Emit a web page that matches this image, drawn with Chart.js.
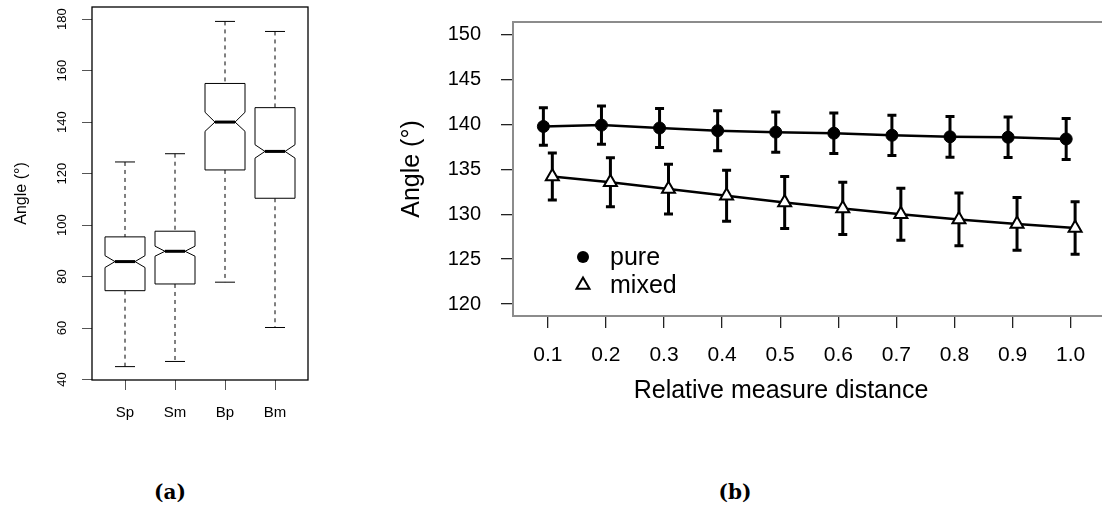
<!DOCTYPE html>
<html>
<head>
<meta charset="utf-8">
<script src="https://cdn.jsdelivr.net/npm/chart.js@4.4.1/dist/chart.umd.min.js"></script>
<style>
  html, body { margin: 0; padding: 0; background: #fff; }
  body { width: 1102px; height: 506px; position: relative; overflow: hidden; }
  canvas { position: absolute; top: 0; }
  #boxes { left: 0; }
  #angles { left: 390px; }
  .cap { position: absolute; font: bold 20px "DejaVu Serif", serif; line-height: 1; transform: translate(-50%, -50%); }
</style>
</head>
<body>
<canvas id="boxes" width="330" height="440"></canvas>
<canvas id="angles" width="725" height="430"></canvas>
<div class="cap" style="left:170px; top:492px">(a)</div>
<div class="cap" style="left:735px; top:492px">(b)</div>
<script>
// (a) notched boxplots
const groups = ["Sp", "Sm", "Bp", "Bm"];
const whiskerLow = [45.0, 47.0, 77.8, 60.2];
const q1 = [74.5, 77.1, 121.4, 110.4];
const notchLow = [83.5, 87.9, 136.4, 126.0];
const median = [85.8, 89.8, 140.0, 128.6];
const notchHigh = [88.1, 91.8, 143.8, 131.2];
const q3 = [95.4, 97.6, 155.0, 145.6];
const whiskerHigh = [124.5, 127.7, 179.1, 175.2];
const boxTicks = [40, 60, 80, 100, 120, 140, 160, 180];

// (b) mean angle +/- error by distance
const distances = [0.1, 0.2, 0.3, 0.4, 0.5, 0.6, 0.7, 0.8, 0.9, 1.0];
const pureMean = [139.77, 139.92, 139.6, 139.3, 139.14, 139.02, 138.79, 138.62, 138.57, 138.38];
const pureErr = [2.08, 2.13, 2.16, 2.23, 2.24, 2.26, 2.24, 2.27, 2.26, 2.28];
const mixedMean = [134.2, 133.55, 132.8, 132.05, 131.3, 130.65, 130.0, 129.42, 128.92, 128.47];
const mixedErr = [2.63, 2.73, 2.77, 2.84, 2.89, 2.92, 2.9, 2.93, 2.93, 2.93];
const angleTicks = [120, 125, 130, 135, 140, 145, 150];

Chart.defaults.font.family = "'Liberation Sans', Arial, sans-serif";
Chart.defaults.color = "#000";

const dodge = 0.0077;

// keep the plot frame where the layout padding puts it
const noEdgePadding = s => { s.paddingTop = 0; s.paddingBottom = 0; s.paddingLeft = 0; s.paddingRight = 0; };

const boxPlugin = {
  id: "notchedBoxes",
  afterDatasetsDraw(chart) {
    const { ctx, chartArea: a, scales: { x, y } } = chart;
    const half = 0.4, inner = 0.2, staple = 0.2;
    ctx.save();
    ctx.strokeStyle = "#000";
    groups.forEach((g, i) => {
      const pos = i + 1;
      const xc = x.getPixelForValue(pos);
      const xl = x.getPixelForValue(pos - half), xr = x.getPixelForValue(pos + half);
      const il = x.getPixelForValue(pos - inner), ir = x.getPixelForValue(pos + inner);
      const sl = x.getPixelForValue(pos - staple), sr = x.getPixelForValue(pos + staple);
      const py = v => y.getPixelForValue(v);

      // whiskers
      ctx.lineWidth = 1;
      ctx.setLineDash([4, 4]);
      ctx.beginPath();
      ctx.moveTo(xc, py(whiskerHigh[i])); ctx.lineTo(xc, py(q3[i]));
      ctx.moveTo(xc, py(q1[i])); ctx.lineTo(xc, py(whiskerLow[i]));
      ctx.stroke();
      ctx.setLineDash([]);

      // staples
      ctx.beginPath();
      ctx.moveTo(sl, py(whiskerHigh[i])); ctx.lineTo(sr, py(whiskerHigh[i]));
      ctx.moveTo(sl, py(whiskerLow[i])); ctx.lineTo(sr, py(whiskerLow[i]));
      ctx.stroke();

      // notched box
      ctx.beginPath();
      ctx.moveTo(xl, py(q3[i]));
      ctx.lineTo(xr, py(q3[i]));
      ctx.lineTo(xr, py(notchHigh[i]));
      ctx.lineTo(ir, py(median[i]));
      ctx.lineTo(xr, py(notchLow[i]));
      ctx.lineTo(xr, py(q1[i]));
      ctx.lineTo(xl, py(q1[i]));
      ctx.lineTo(xl, py(notchLow[i]));
      ctx.lineTo(il, py(median[i]));
      ctx.lineTo(xl, py(notchHigh[i]));
      ctx.closePath();
      ctx.fillStyle = "#fff";
      ctx.fill();
      ctx.stroke();

      // median
      ctx.lineWidth = 3;
      ctx.beginPath();
      ctx.moveTo(il, py(median[i])); ctx.lineTo(ir, py(median[i]));
      ctx.stroke();
    });
    ctx.lineWidth = 1.3;
    ctx.strokeRect(a.left, a.top, a.width, a.height);
    ctx.restore();
  }
};

const errorBars = {
  id: "errorBars",
  beforeDatasetsDraw(chart) {
    const { ctx, scales: { x, y } } = chart;
    const capHalf = 4.5;
    ctx.save();
    ctx.strokeStyle = "#000";
    ctx.lineWidth = 3;
    const bars = (means, errs, shift) => {
      distances.forEach((d, i) => {
        const px = x.getPixelForValue(d + shift);
        const top = y.getPixelForValue(means[i] + errs[i]);
        const bot = y.getPixelForValue(means[i] - errs[i]);
        ctx.beginPath();
        ctx.moveTo(px, top); ctx.lineTo(px, bot);
        ctx.moveTo(px - capHalf, top); ctx.lineTo(px + capHalf, top);
        ctx.moveTo(px - capHalf, bot); ctx.lineTo(px + capHalf, bot);
        ctx.stroke();
      });
    };
    bars(pureMean, pureErr, -dodge);
    bars(mixedMean, mixedErr, dodge);
    ctx.restore();
  },
  afterDraw(chart) {
    const { ctx, chartArea: a } = chart;
    ctx.save();
    // frame
    ctx.strokeStyle = "#8c8c8c";
    ctx.lineWidth = 2;
    ctx.strokeRect(a.left, a.top, a.width, a.height);

    // legend inside the plot
    const mx = a.left + 70, tx = a.left + 97;
    ctx.fillStyle = "#000";
    ctx.beginPath();
    ctx.arc(mx, 257, 6, 0, Math.PI * 2);
    ctx.fill();
    const r = 7.5, ty = 285;
    ctx.beginPath();
    ctx.moveTo(mx, ty - r);
    ctx.lineTo(mx + r * Math.sin(Math.PI * 2 / 3), ty + r / 2);
    ctx.lineTo(mx - r * Math.sin(Math.PI * 2 / 3), ty + r / 2);
    ctx.closePath();
    ctx.fillStyle = "#fff";
    ctx.fill();
    ctx.lineWidth = 2;
    ctx.strokeStyle = "#000";
    ctx.stroke();
    ctx.fillStyle = "#000";
    ctx.font = "25px 'Liberation Sans', Arial, sans-serif";
    ctx.textBaseline = "alphabetic";
    ctx.textAlign = "left";
    ctx.fillText("pure", tx, 265);
    ctx.fillText("mixed", tx, 293);

    // x axis title
    ctx.textAlign = "center";
    ctx.fillText("Relative measure distance", 391, 398);
    ctx.restore();
  }
};

new Chart(document.getElementById("boxes"), {
  type: "scatter",
  data: { datasets: [] },
  options: {
    responsive: false,
    animation: false,
    events: [],
    layout: { padding: { top: 7, right: 22, bottom: 0, left: 0 } },
    plugins: { legend: { display: false }, tooltip: { enabled: false } },
    scales: {
      x: {
        type: "linear",
        display: true,
        min: 0.34,
        max: 4.66,
        afterBuildTicks: s => { s.ticks = groups.map((g, i) => ({ value: i + 1 })); },
        afterFit: s => { s.height = 60; noEdgePadding(s); },
        ticks: { callback: v => groups[v - 1], font: { size: 15 }, padding: 14, autoSkip: false, maxRotation: 0 },
        grid: { drawOnChartArea: false, tickLength: 10, color: "#555", lineWidth: 1 },
        border: { display: false }
      },
      y: {
        type: "linear",
        display: true,
        min: 39.8,
        max: 184.7,
        afterBuildTicks: s => { s.ticks = boxTicks.map(v => ({ value: v })); },
        afterFit: s => { s.width = 92; noEdgePadding(s); },
        ticks: { font: { size: 13 }, minRotation: 90, maxRotation: 90, crossAlign: "center", padding: 9, autoSkip: false },
        grid: { drawOnChartArea: false, tickLength: 10, color: "#555", lineWidth: 1 },
        border: { display: false },
        title: { display: true, text: "Angle (°)", font: { size: 16 }, padding: { top: 12, bottom: 0 } }
      }
    }
  },
  plugins: [boxPlugin]
});

new Chart(document.getElementById("angles"), {
  type: "line",
  data: {
    datasets: [
      {
        label: "pure",
        data: distances.map((d, i) => ({ x: d - dodge, y: pureMean[i] })),
        borderColor: "#000",
        borderWidth: 2.5,
        pointStyle: "circle",
        pointRadius: 6,
        pointBackgroundColor: "#000",
        pointBorderColor: "#000",
        pointBorderWidth: 1
      },
      {
        label: "mixed",
        data: distances.map((d, i) => ({ x: d + dodge, y: mixedMean[i] })),
        borderColor: "#000",
        borderWidth: 2.5,
        pointStyle: "triangle",
        pointRadius: 7.5,
        pointBackgroundColor: "#fff",
        pointBorderColor: "#000",
        pointBorderWidth: 2
      }
    ]
  },
  options: {
    responsive: false,
    animation: false,
    events: [],
    layout: { padding: { top: 22, right: 5, bottom: 0, left: 0 } },
    plugins: { legend: { display: false }, tooltip: { enabled: false } },
    scales: {
      x: {
        type: "linear",
        min: 0.04,
        max: 1.06,
        afterBuildTicks: s => { s.ticks = distances.map(v => ({ value: v })); },
        afterFit: s => { s.height = 114; noEdgePadding(s); },
        ticks: { callback: v => v.toFixed(1), font: { size: 21 }, padding: 15, autoSkip: false, maxRotation: 0 },
        grid: { drawOnChartArea: false, tickLength: 12, color: "#222", lineWidth: 1.3 },
        border: { display: false }
      },
      y: {
        type: "linear",
        min: 118.67,
        max: 151.4,
        afterBuildTicks: s => { s.ticks = angleTicks.map(v => ({ value: v })); },
        afterFit: s => { s.width = 123; noEdgePadding(s); },
        ticks: { font: { size: 20 }, padding: 20, autoSkip: false },
        grid: { drawOnChartArea: false, tickLength: 12, color: "#222", lineWidth: 1.3 },
        border: { display: false },
        title: { display: true, text: "Angle (°)", font: { size: 25 }, padding: { top: 7, bottom: 0 } }
      }
    }
  },
  plugins: [errorBars]
});
</script>
</body>
</html>
